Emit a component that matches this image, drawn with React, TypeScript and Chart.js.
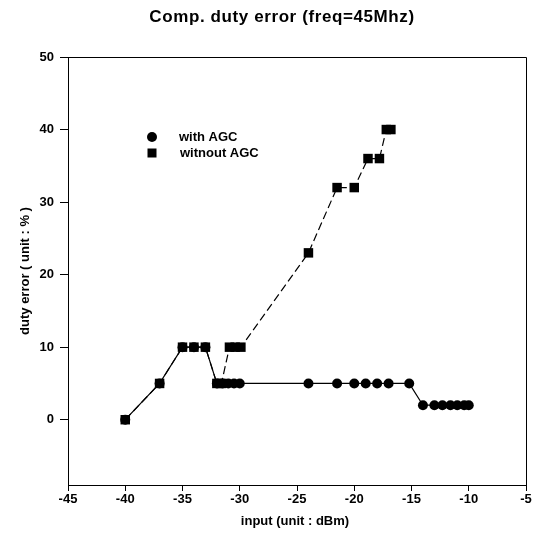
import React, { useEffect, useRef } from 'react';
import { Chart, registerables } from 'chart.js';

Chart.register(...registerables);

const titleText = 'Comp. duty error (freq=45Mhz)';
const xTitle = 'input (unit : dBm)';
const yTitle = 'duty error ( unit : % )';
const seriesNames = ['with AGC', 'witnout AGC'];

const withAgcX = [-40, -37, -35, -34, -33, -32, -31.5, -31, -30.5, -30, -24, -21.5, -20, -19, -18, -17, -15.2, -14, -13, -12.3, -11.6, -11, -10.4, -10];
const withAgcY = [0, 5, 10, 10, 10, 5, 5, 5, 5, 5, 5, 5, 5, 5, 5, 5, 5, 2, 2, 2, 2, 2, 2, 2];

const withoutAgcX = [-40, -37, -35, -34, -33, -32, -31.6, -30.9, -30.4, -29.9, -24, -21.5, -20, -18.8, -17.8, -17.2, -16.8];
const withoutAgcY = [0, 5, 10, 10, 10, 5, 5, 10, 10, 10, 23, 32, 32, 36, 36, 40, 40];

const xTicks = [-45, -40, -35, -30, -25, -20, -15, -10, -5];
const yTicks = [0, 10, 20, 30, 40, 50];

const FONT = '"Liberation Sans", Arial, sans-serif';

const decorPlugin = {
  id: 'decor',
  afterDraw(chart: any) {
    const { ctx, chartArea } = chart;
    const { left, right, top, bottom } = chartArea;
    ctx.save();
    ctx.strokeStyle = '#000';
    ctx.lineWidth = 1;
    ctx.beginPath();
    ctx.moveTo(left, top + 0.5);
    ctx.lineTo(right + 0.5, top + 0.5);
    ctx.lineTo(right + 0.5, bottom);
    ctx.stroke();

    ctx.fillStyle = '#000';
    ctx.textAlign = 'center';
    ctx.textBaseline = 'middle';
    ctx.font = `bold 17px ${FONT}`;
    try { (ctx as any).letterSpacing = '0.6px'; } catch (e) {}
    ctx.fillText(titleText, 282, 17);
    try { (ctx as any).letterSpacing = '0px'; } catch (e) {}

    ctx.font = `bold 13px ${FONT}`;
    ctx.fillText(xTitle, 295, 521);

    ctx.save();
    ctx.translate(25, (top + bottom) / 2);
    ctx.rotate(-Math.PI / 2);
    ctx.font = `bold 13px ${FONT}`;
    ctx.fillText(yTitle, 0, 0);
    ctx.restore();

    // legend
    const lx = left + 84;
    const ly1 = top + 80;
    const ly2 = top + 96;
    ctx.beginPath();
    ctx.arc(lx, ly1, 5, 0, Math.PI * 2);
    ctx.fill();
    ctx.fillRect(lx - 4.5, ly2 - 4.5, 9, 9);
    ctx.textAlign = 'left';
    ctx.font = `bold 13px ${FONT}`;
    ctx.fillText(seriesNames[0], lx + 27, ly1);
    ctx.fillText(seriesNames[1], lx + 28, ly2);
    ctx.restore();
  },
};

export default function App() {
  const ref = useRef<HTMLCanvasElement | null>(null);
  useEffect(() => {
    if (!ref.current) return;
    const chart = new Chart(ref.current, {
      type: 'line',
      data: {
        datasets: [
          {
            label: seriesNames[0],
            data: withAgcX.map((x, i) => ({ x, y: withAgcY[i] })),
            borderColor: '#000',
            backgroundColor: '#000',
            borderWidth: 1.2,
            pointStyle: 'circle',
            pointRadius: 5,
            pointBorderWidth: 0,
            order: 0,
          },
          {
            label: seriesNames[1],
            data: withoutAgcX.map((x, i) => ({ x, y: withoutAgcY[i] })),
            borderColor: '#000',
            backgroundColor: '#000',
            borderWidth: 1.2,
            borderDash: [8, 4],
            pointStyle: 'rect',
            pointRadius: 6.7,
            pointBorderWidth: 0,
            order: 1,
          },
        ],
      },
      options: {
        responsive: false,
        animation: false,
        layout: { padding: { left: 0, right: 11, top: 57, bottom: 0 } },
        plugins: {
          legend: { display: false },
          title: { display: false },
          tooltip: { enabled: false },
        },
        scales: {
          x: {
            type: 'linear',
            min: -45,
            max: -5,
            afterBuildTicks: (s: any) => {
              s.ticks = xTicks.map((v) => ({ value: v }));
            },
            afterFit: (s: any) => {
              s.height = 55;
            },
            grid: { drawOnChartArea: false, drawTicks: true, tickLength: 6, color: '#000' },
            border: { display: true, color: '#000', width: 1 },
            ticks: { color: '#000', font: { family: FONT, size: 13, weight: 'bold' }, padding: 1, maxRotation: 0 },
          },
          y: {
            type: 'linear',
            min: -9,
            max: 50,
            afterBuildTicks: (s: any) => {
              s.ticks = yTicks.map((v) => ({ value: v }));
            },
            afterFit: (s: any) => {
              s.width = 68;
            },
            grid: { drawOnChartArea: false, drawTicks: true, tickLength: 8, color: '#000' },
            border: { display: true, color: '#000', width: 1 },
            ticks: { color: '#000', font: { family: FONT, size: 13, weight: 'bold' }, padding: 6 },
          },
        },
      },
      plugins: [decorPlugin],
    });
    return () => chart.destroy();
  }, []);
  return (
    <div style={{ position: 'absolute', left: 0, top: 0, width: 537, height: 540, background: '#fff' }}>
      <canvas ref={ref} width={537} height={540} style={{ display: 'block' }} />
    </div>
  );
}
